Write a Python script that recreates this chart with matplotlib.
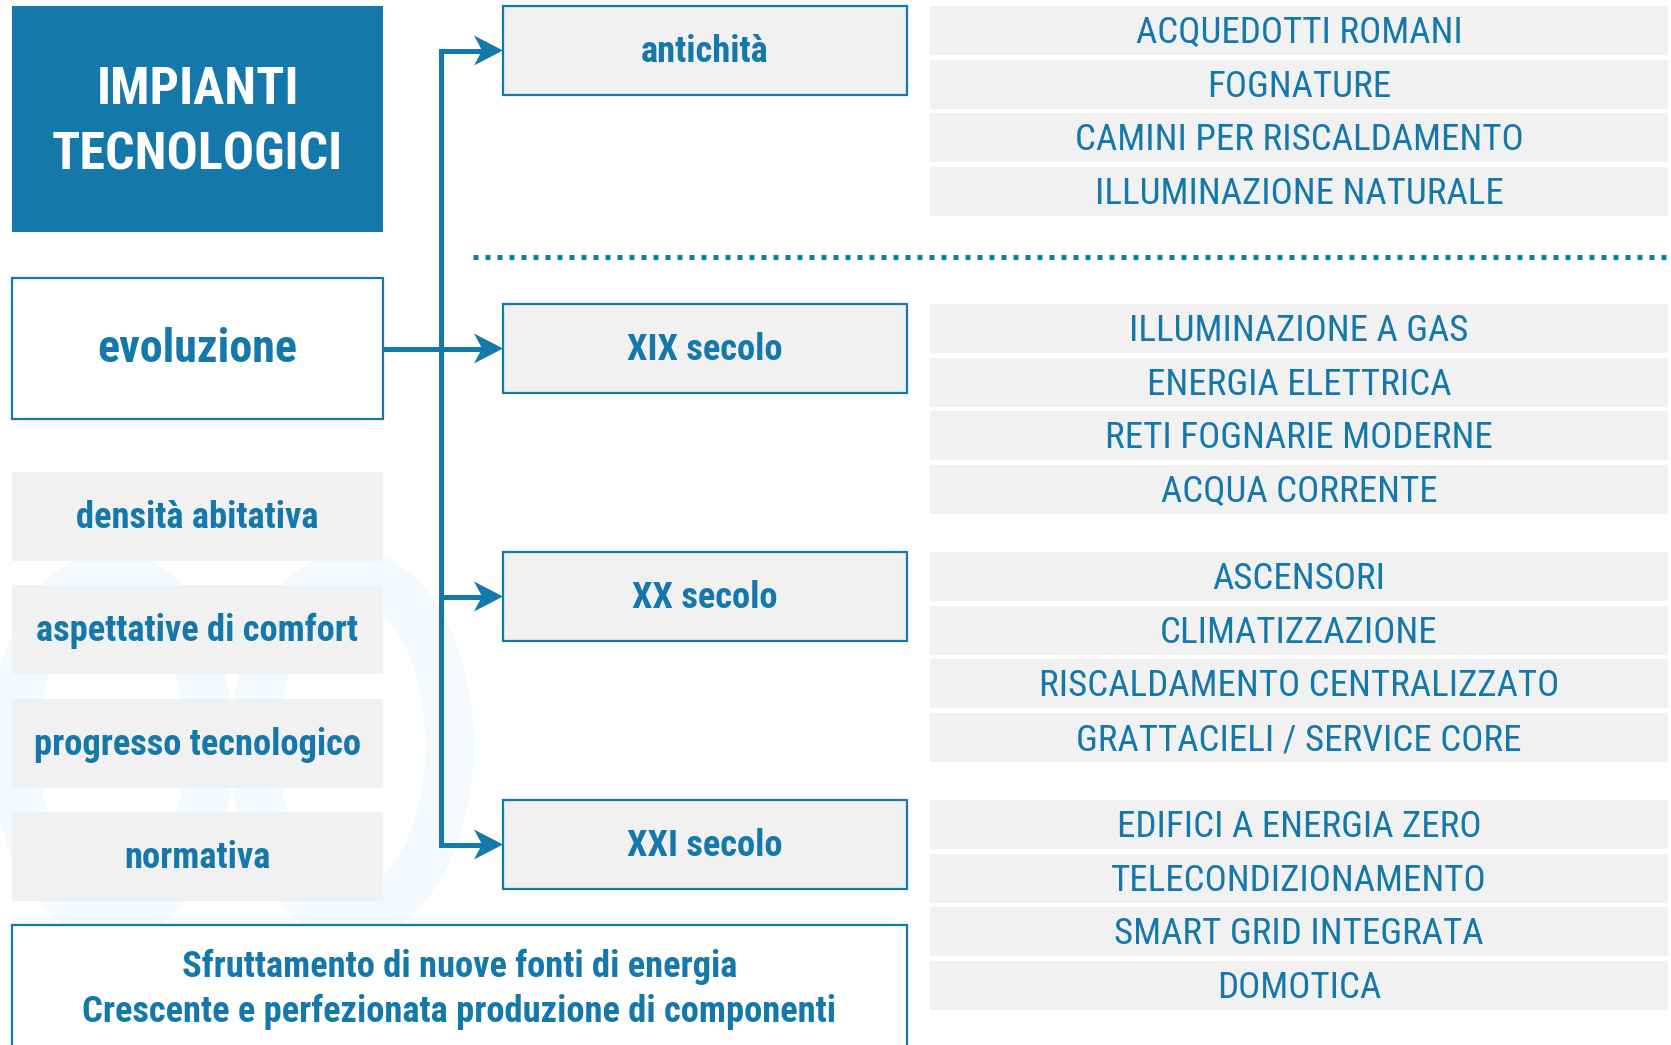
import matplotlib
matplotlib.use('Agg')
import matplotlib.pyplot as plt
from matplotlib.patches import Rectangle, Polygon, Ellipse

# ----------------------------------------------------------------
# Dati dello schema
# ----------------------------------------------------------------
titolo = ['IMPIANTI', 'TECNOLOGICI']
nodo_centrale = 'evoluzione'
fattori = ['densità abitativa', 'aspettative di comfort',
           'progresso tecnologico', 'normativa']
periodi = ['antichità', 'XIX secolo', 'XX secolo', 'XXI secolo']
voci_antichita = ['ACQUEDOTTI ROMANI', 'FOGNATURE',
                  'CAMINI PER RISCALDAMENTO', 'ILLUMINAZIONE NATURALE']
voci_xix = ['ILLUMINAZIONE A GAS', 'ENERGIA ELETTRICA',
            'RETI FOGNARIE MODERNE', 'ACQUA CORRENTE']
voci_xx = ['ASCENSORI', 'CLIMATIZZAZIONE',
           'RISCALDAMENTO CENTRALIZZATO', 'GRATTACIELI / SERVICE CORE']
voci_xxi = ['EDIFICI A ENERGIA ZERO', 'TELECONDIZIONAMENTO',
            'SMART GRID INTEGRATA', 'DOMOTICA']
note_finali = ['Sfruttamento di nuove fonti di energia',
               'Crescente e perfezionata produzione di componenti']

voci = [voci_antichita, voci_xix, voci_xx, voci_xxi]

# ----------------------------------------------------------------
# Stile
# ----------------------------------------------------------------
BLU = '#1578AB'
GRIGIO = '#F1F1F1'
FILIGRANA = '#F4F9FD'

plt.rcParams['font.family'] = ['Roboto Condensed', 'Archivo Narrow', 'DejaVu Sans']

W, H = 1671, 1045
fig = plt.figure(figsize=(W / 100, H / 100), dpi=100)
ax = fig.add_axes([0, 0, 1, 1])
ax.set_xlim(0, W)
ax.set_ylim(H, 0)
ax.axis('off')

def px(v):
    # pixel -> punti tipografici
    return v * 0.72

def riquadro(x0, y0, x1, y1, fc, ec=None, lw=0, z=2):
    ax.add_patch(Rectangle((x0, y0), x1 - x0, y1 - y0, facecolor=fc,
                           edgecolor=ec if ec else 'none', linewidth=lw, zorder=z))

# filigrana di sfondo
for cx in (112, 352):
    ax.add_patch(Ellipse((cx, 745), 195, 340, facecolor='none',
                         edgecolor=FILIGRANA, linewidth=px(48), zorder=0))

# colonna sinistra
LX0, LX1 = 12, 383
riquadro(LX0, 6, LX1, 232, BLU)
for k, riga in enumerate(titolo):
    ax.text((LX0 + LX1) / 2, 90 + k * 65, riga, color='white',
            fontsize=px(52), fontweight='bold', ha='center', va='center', zorder=3)

riquadro(LX0, 278, LX1, 419, 'white', BLU, 1.6)
y_evo = (278 + 419) / 2
ax.text((LX0 + LX1) / 2, y_evo + 1, nodo_centrale, color=BLU, fontsize=px(46),
        fontweight='bold', ha='center', va='center', zorder=3)

for i, f in enumerate(fattori):
    y0 = 472 + i * 113.3
    riquadro(LX0, y0, LX1, y0 + 89, GRIGIO)
    ax.text((LX0 + LX1) / 2, y0 + 46, f, color=BLU, fontsize=px(36.5),
            fontweight='bold', ha='center', va='center', zorder=3)

# periodi e voci
PX0, PX1 = 503, 907
IX0, IX1 = 930, 1668
top_periodi = [6, 304, 552, 800]
centri = []
for p, lista, t in zip(periodi, voci, top_periodi):
    riquadro(PX0, t, PX1, t + 89, GRIGIO, BLU, 1.6)
    centri.append(t + 44.5)
    ax.text((PX0 + PX1) / 2, t + 46, p, color=BLU, fontsize=px(36.5),
            fontweight='bold', ha='center', va='center', zorder=3)
    for j, v in enumerate(lista):
        y0 = t + j * 53.7
        riquadro(IX0, y0, IX1, y0 + 49, GRIGIO)
        ax.text((IX0 + IX1) / 2, y0 + 27, v, color=BLU, fontsize=px(37),
                ha='center', va='center', zorder=3)

# linea tratteggiata fra antichità ed epoca moderna
ax.plot([473, W], [257, 257], color=BLU, lw=px(5),
        dashes=(1.0, 1.4), solid_capstyle='butt', dash_capstyle='butt', zorder=1)

# connettori
VX = 441
ax.plot([VX, VX], [centri[0], centri[-1]], color=BLU, lw=px(5),
        solid_capstyle='projecting', zorder=1)
ax.plot([LX1, VX], [y_evo, y_evo], color=BLU, lw=px(5), zorder=1)
for yc in centri:
    ax.plot([VX, PX0 - 10], [yc, yc], color=BLU, lw=px(5),
            solid_capstyle='butt', zorder=1)
    ax.add_patch(Polygon([(PX0, yc), (PX0 - 29, yc - 15), (PX0 - 21, yc),
                          (PX0 - 29, yc + 15)], closed=True,
                         facecolor=BLU, edgecolor='none', zorder=4))

# riquadro finale
riquadro(LX0, 925, PX1, H + 20, 'white', BLU, 1.6)
for k, n in enumerate(note_finali):
    ax.text((LX0 + PX1) / 2, 967 + k * 45, n, color=BLU, fontsize=px(36.5),
            fontweight='bold', ha='center', va='center', zorder=3)

fig.savefig('out.png', dpi=100)
